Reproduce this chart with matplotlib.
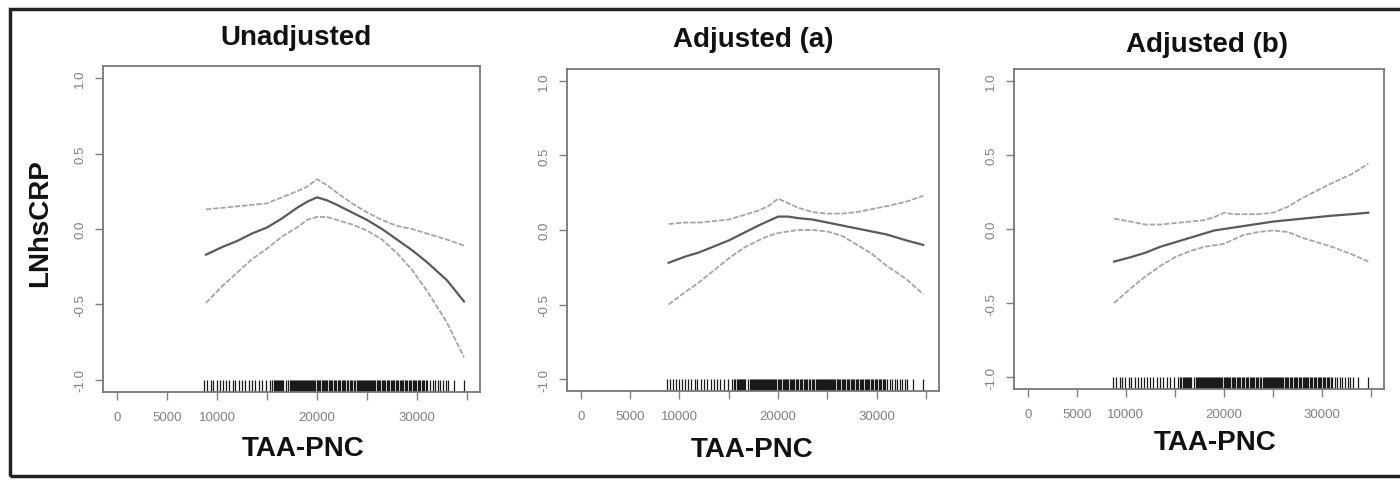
import matplotlib
matplotlib.use("Agg")
import matplotlib.pyplot as plt
from matplotlib.patches import Rectangle

plt.rcParams['font.family'] = ['Liberation Sans', 'DejaVu Sans']

# panel titles
titles = ["Unadjusted", "Adjusted (a)", "Adjusted (b)"]

# smooth fits: x (TAA-PNC), fit, upper and lower bands
x_grid = [8900, 10500, 12000, 13500, 15000, 16500, 18000, 19000, 20000, 21000,
          22000, 23500, 25000, 26500, 28000, 29500, 31000, 33000, 34700]

fit_unadj = [-0.17, -0.12, -0.08, -0.03, 0.01, 0.07, 0.14, 0.18, 0.21, 0.19,
             0.16, 0.11, 0.06, 0.00, -0.07, -0.14, -0.22, -0.34, -0.48]
up_unadj = [0.13, 0.14, 0.15, 0.16, 0.17, 0.21, 0.25, 0.28, 0.33, 0.29,
            0.24, 0.17, 0.11, 0.06, 0.02, 0.00, -0.03, -0.07, -0.11]
lo_unadj = [-0.49, -0.38, -0.29, -0.20, -0.13, -0.05, 0.01, 0.06, 0.08, 0.08,
            0.06, 0.03, -0.01, -0.07, -0.16, -0.27, -0.41, -0.62, -0.85]

fit_adj_a = [-0.22, -0.18, -0.15, -0.11, -0.07, -0.02, 0.03, 0.06, 0.09, 0.09,
             0.08, 0.07, 0.05, 0.03, 0.01, -0.01, -0.03, -0.07, -0.10]
up_adj_a = [0.04, 0.05, 0.05, 0.06, 0.07, 0.10, 0.13, 0.16, 0.21, 0.18,
            0.15, 0.12, 0.11, 0.11, 0.12, 0.14, 0.16, 0.19, 0.23]
lo_adj_a = [-0.50, -0.42, -0.35, -0.27, -0.19, -0.12, -0.07, -0.04, -0.02, -0.01,
            0.00, 0.00, -0.01, -0.04, -0.10, -0.16, -0.24, -0.33, -0.43]

fit_adj_b = [-0.22, -0.19, -0.16, -0.12, -0.09, -0.06, -0.03, -0.01, 0.00, 0.01,
             0.02, 0.035, 0.05, 0.06, 0.07, 0.08, 0.09, 0.10, 0.11]
up_adj_b = [0.07, 0.05, 0.03, 0.03, 0.04, 0.05, 0.06, 0.08, 0.11, 0.10,
            0.10, 0.10, 0.11, 0.15, 0.21, 0.26, 0.31, 0.37, 0.44]
lo_adj_b = [-0.50, -0.40, -0.32, -0.25, -0.19, -0.15, -0.12, -0.11, -0.10, -0.07,
            -0.04, -0.02, -0.01, -0.02, -0.06, -0.09, -0.12, -0.17, -0.22]

# observed TAA-PNC values (rug)
rug_x = [
    8700, 9000, 9350, 9600, 9950, 10300, 10550, 10900, 11200, 11550, 11800,
    12150, 12500, 12800, 13150, 13450, 13800, 14150, 14500, 14900, 15300,
    15500, 15650, 15800, 15900, 16000, 16100, 16200, 16300, 16400,
    16500, 16600, 16900, 17100, 17250, 17350, 17450, 17550, 17650, 17750,
    17850, 17950, 18050, 18150, 18250, 18350, 18450, 18550, 18650, 18750,
    18850, 18950, 19050, 19150, 19250, 19350, 19500, 19600, 19700, 19800,
    19950, 20100, 20200, 20300, 20450, 20550, 20650, 20800, 20900, 21000,
    21150, 21300, 21400, 21500, 21650, 21800, 21900, 22050, 22200, 22300,
    22450, 22600, 22700, 22800, 22950, 23100, 23250, 23400, 23500, 23650,
    23800, 23950, 24050, 24150, 24250, 24350, 24450, 24550, 24650, 24750,
    24850, 24950, 25050, 25150, 25250, 25350, 25500, 25600, 25700, 25800,
    25950, 26050, 26200, 26300, 26450, 26550, 26700, 26800, 26950, 27100,
    27200, 27350, 27450, 27600, 27700, 27850, 28000, 28100, 28250, 28350,
    28500, 28600, 28750, 28900, 29000, 29150, 29250, 29400, 29550, 29650,
    29800, 29900, 30050, 30200, 30300, 30450, 30600, 30700, 30850, 31000,
    31300, 31550, 31800, 32050, 32300, 32600, 32850, 33100, 33700, 34700,
]

x_ticks = [0, 5000, 10000, 15000, 20000, 25000, 30000, 35000]
x_tick_labels = ["0", "5000", "10000", "", "20000", "", "30000", ""]
y_ticks = [-1.0, -0.5, 0.0, 0.5, 1.0]
y_tick_labels = ["-1.0", "-0.5", "0.0", "0.5", "1.0"]

x_adj_b = [8800] + x_grid[1:]
panels = [
    (x_grid, fit_unadj, up_unadj, lo_unadj),
    (x_grid, fit_adj_a, up_adj_a, lo_adj_a),
    (x_adj_b, fit_adj_b, up_adj_b, lo_adj_b),
]

W, H = 1400, 481
# axes boxes in pixels: left, right, top, bottom
boxes = [(103, 480, 67, 393), (567, 939, 70, 392), (1014, 1384, 70, 390)]
title_pos = [(296, 38), (753, 40), (1207, 45)]
xlabel_pos = [(303, 449), (752, 450), (1215, 443)]

fig = plt.figure(figsize=(14, 4.81), dpi=100)

for i, (xs, fit, up, lo) in enumerate(panels):
    l, r, t, b = boxes[i]
    ax = fig.add_axes([l / W, 1 - b / H, (r - l) / W, (b - t) / H])
    ax.plot(xs, up, color='#a5a5a5', lw=1.3, ls=(0, (3, 1)))
    ax.plot(xs, lo, color='#a5a5a5', lw=1.3, ls=(0, (3, 1)))
    ax.plot(xs, fit, color='#5a5a5a', lw=1.6)
    ax.vlines(rug_x, 0, 0.036, transform=ax.get_xaxis_transform(),
              color='#1a1a1a', lw=0.9)
    ax.set_xlim(-1400, 36300)
    ax.set_ylim(-1.08, 1.08)
    ax.set_xticks(x_ticks)
    ax.set_xticklabels(x_tick_labels)
    ax.set_yticks(y_ticks)
    ax.set_yticklabels(y_tick_labels, rotation=90, va='center')
    ax.tick_params(colors='#808080', labelcolor='#808080', labelsize=9.5,
                   length=6, width=1.0, direction='out')
    ax.tick_params(axis='x', pad=8)
    ax.tick_params(axis='y', pad=6)
    for s in ax.spines.values():
        s.set_color('#777777')
        s.set_linewidth(1.3)

    tx, ty = title_pos[i]
    fig.text(tx / W, 1 - ty / H, titles[i], ha='center', va='center',
             fontsize=20, fontweight='bold', color='#111111')
    lx, ly = xlabel_pos[i]
    fig.text(lx / W, 1 - ly / H, "TAA-PNC", ha='center', va='center',
             fontsize=20, fontweight='bold', color='#111111')

fig.text(40 / W, 1 - 223 / H, "LNhsCRP", ha='center', va='center',
         rotation=90, fontsize=20, fontweight='bold', color='#111111')

# outer frame
fig.patches.append(Rectangle((10 / W, 1 - 477 / H), 1400 / W, 467 / H,
                             transform=fig.transFigure, fill=False,
                             edgecolor='#222222', lw=2.5))

fig.savefig("out.png", dpi=100, facecolor='white')
